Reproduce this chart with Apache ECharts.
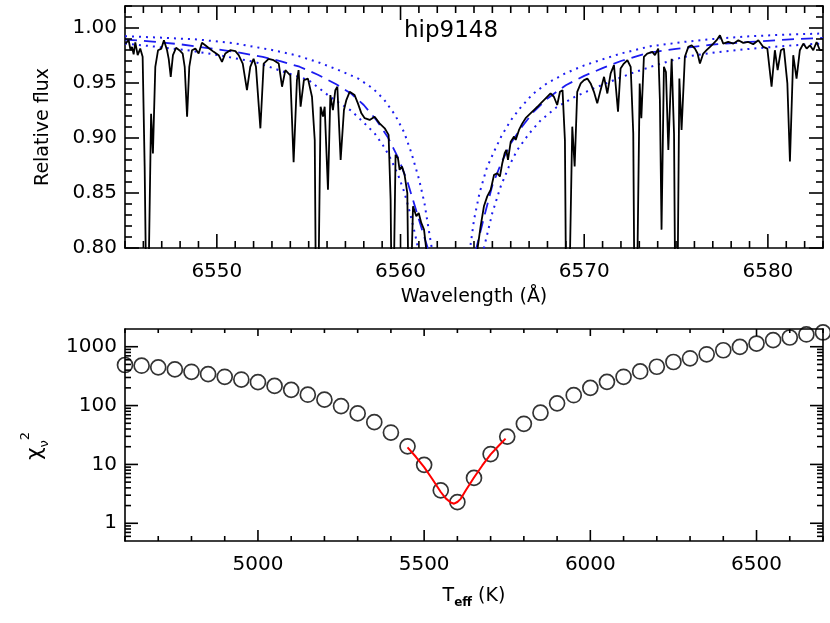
<!DOCTYPE html>
<html><head><meta charset="utf-8">
<script src="https://cdn.jsdelivr.net/npm/echarts@6/dist/echarts.min.js"></script>
<style>html,body{margin:0;padding:0;background:#fff}#c{width:830px;height:623px}</style>
</head><body><div id="c"></div>
<script>
// ---- top panel: observed spectrum [wavelength (Å), relative flux]
const spectrum = [
[6545.02,0.9858],[6545.20,0.9889],[6545.30,0.9800],[6545.38,0.9828],[6545.47,0.9760],[6545.56,0.9870],[6545.69,0.9753],[6545.83,0.9813],[6545.96,0.9738],
[6546.07,0.874],[6546.20,0.70],[6546.29,0.78],[6546.42,0.922],[6546.52,0.886],[6546.65,0.9647],[6546.80,0.9798],[6546.98,0.9813],[6547.12,0.9889],
[6547.29,0.9798],[6547.38,0.972],[6547.49,0.9556],[6547.61,0.9753],[6547.78,0.982],[6547.96,0.9798],[6548.14,0.9768],[6548.25,0.9647],[6548.38,0.9194],
[6548.50,0.9647],[6548.65,0.9798],[6548.83,0.9813],[6549.01,0.9768],[6549.19,0.9865],[6549.37,0.9843],[6549.59,0.9813],[6549.83,0.9783],[6550.10,0.9753],
[6550.28,0.9692],[6550.46,0.9768],[6550.73,0.9798],[6551.01,0.979],[6551.19,0.9753],[6551.41,0.9677],[6551.64,0.9435],[6551.82,0.9647],[6552.00,0.972],
[6552.13,0.9647],[6552.37,0.9088],[6552.55,0.9677],[6552.82,0.972],[6553.09,0.9707],[6553.37,0.9677],[6553.55,0.9466],[6553.73,0.9617],[6554.00,0.957],
[6554.18,0.878],[6554.36,0.9526],[6554.45,0.9617],[6554.56,0.9284],[6554.74,0.9526],[6554.96,0.954],[6555.18,0.9375],[6555.33,0.898],[6555.42,0.70],
[6555.54,0.78],[6555.65,0.9284],[6555.78,0.9194],[6555.87,0.9284],[6556.05,0.853],[6556.18,0.939],[6556.32,0.9254],[6556.45,0.9435],[6556.56,0.9466],
[6556.74,0.8801],[6556.92,0.9254],[6557.05,0.9345],[6557.23,0.942],[6557.50,0.939],[6557.68,0.9315],[6557.87,0.9224],[6558.05,0.918],[6558.32,0.9164],
[6558.59,0.9194],[6558.86,0.9133],[6559.14,0.9088],[6559.35,0.9028],[6559.46,0.844],[6559.55,0.70],[6559.64,0.78],[6559.73,0.8847],[6559.86,0.8816],
[6559.95,0.8711],[6560.08,0.8741],[6560.22,0.8665],[6560.37,0.8499],[6560.46,0.72],[6560.59,0.78],[6560.68,0.8379],[6560.86,0.8288],[6560.99,0.8318],
[6561.13,0.8228],[6561.28,0.8167],[6561.46,0.79],[6562.00,0.62],[6562.75,0.45],[6563.50,0.62],
[6564.18,0.798],[6564.36,0.8197],[6564.54,0.8379],[6564.72,0.8469],[6564.91,0.853],[6565.09,0.8665],[6565.27,0.868],[6565.41,0.865],[6565.54,0.8771],
[6565.67,0.8862],[6565.76,0.8892],[6565.85,0.8801],[6566.00,0.8967],[6566.18,0.9013],[6566.27,0.8982],[6566.45,0.9073],[6566.63,0.9133],[6566.81,0.918],
[6566.99,0.921],[6567.26,0.9254],[6567.45,0.9284],[6567.63,0.9315],[6567.90,0.936],[6568.17,0.9405],[6568.35,0.9375],[6568.53,0.93],[6568.68,0.942],
[6568.82,0.9435],[6568.95,0.898],[6569.04,0.70],[6569.21,0.78],[6569.35,0.9103],[6569.48,0.8741],[6569.62,0.942],[6569.81,0.9496],[6569.99,0.9526],
[6570.17,0.954],[6570.35,0.9496],[6570.53,0.942],[6570.71,0.9315],[6570.89,0.9435],[6571.08,0.9556],[6571.26,0.9405],[6571.44,0.9587],[6571.62,0.9662],
[6571.84,0.9239],[6571.98,0.9632],[6572.16,0.9677],[6572.35,0.9707],[6572.53,0.9647],[6572.67,0.9043],[6572.76,0.70],[6572.89,0.78],[6573.02,0.9496],
[6573.11,0.918],[6573.25,0.9738],[6573.43,0.9768],[6573.71,0.9783],[6573.85,0.9753],[6574.03,0.9813],[6574.12,0.9345],[6574.21,0.8167],[6574.34,0.9647],
[6574.45,0.96],[6574.58,0.8892],[6574.76,0.972],[6574.89,0.904],[6574.98,0.70],[6575.09,0.78],[6575.18,0.954],[6575.30,0.9073],[6575.48,0.9738],
[6575.67,0.9828],[6575.85,0.9843],[6576.03,0.9813],[6576.17,0.9768],[6576.30,0.9677],[6576.48,0.9768],[6576.66,0.9798],[6576.85,0.9828],[6577.03,0.9858],
[6577.21,0.9889],[6577.39,0.9934],[6577.57,0.9858],[6577.84,0.9873],[6578.12,0.9858],[6578.39,0.9889],[6578.66,0.9865],[6578.93,0.9873],[6579.20,0.9852],
[6579.48,0.9889],[6579.75,0.9828],[6579.97,0.9813],[6580.08,0.9647],[6580.20,0.9466],[6580.38,0.9798],[6580.53,0.9617],[6580.71,0.9798],[6580.87,0.9813],
[6581.06,0.9496],[6581.20,0.8786],[6581.38,0.9753],[6581.56,0.954],[6581.74,0.9798],[6581.93,0.9858],[6582.11,0.9813],[6582.29,0.9843],[6582.47,0.9798],
[6582.65,0.9873],[6582.83,0.9798],[6582.98,0.9798]
];
// best-fit model profile (dashed)
const modelBest = [
[6545.0,0.9895],[6546.5,0.9877],[6548.0,0.9852],[6549.5,0.9818],[6551.0,0.9783],[6552.5,0.9738],[6553.5,0.9697],[6554.5,0.9648],[6555.5,0.9575],
[6556.5,0.9488],[6557.3,0.9405],[6558.0,0.9300],[6558.7,0.9160],[6559.3,0.9010],[6559.9,0.8810],[6560.4,0.8590],[6560.8,0.8370],[6561.2,0.8150],
[6561.5,0.7990],[6562.0,0.7500],[6562.75,0.6500],[6563.5,0.7500],[6564.1,0.7980],[6564.5,0.8250],[6565.0,0.8570],[6565.5,0.8780],[6566.0,0.8950],
[6566.6,0.9100],[6567.2,0.9230],[6568.0,0.9360],[6569.0,0.9480],[6570.0,0.9565],[6571.0,0.9635],[6572.0,0.9700],[6573.5,0.9775],[6575.0,0.9810],
[6577.0,0.9850],[6579.0,0.9873],[6581.0,0.9895],[6583.0,0.9910]
];
// narrower model profile (dotted)
const modelNarrow = [
[6545.0,0.9925],[6547.0,0.9912],[6549.0,0.9895],[6551.0,0.9860],[6553.0,0.9800],[6554.3,0.9753],[6555.5,0.9690],[6556.6,0.9620],[6557.7,0.9540],
[6558.5,0.9450],[6559.1,0.9350],[6559.7,0.9210],[6560.2,0.9050],[6560.6,0.8860],[6561.0,0.8630],[6561.3,0.8410],[6561.6,0.8100],[6561.8,0.7900],
[6562.3,0.7300],[6562.75,0.6800],[6563.3,0.7300],[6563.75,0.7950],[6564.0,0.8255],[6564.3,0.8500],[6564.7,0.8730],[6565.1,0.8880],[6565.5,0.9020],
[6566.0,0.9160],[6566.5,0.9270],[6567.2,0.9400],[6568.0,0.9500],[6569.0,0.9590],[6570.0,0.9660],[6571.0,0.9715],[6572.0,0.9768],[6573.6,0.9834],
[6575.4,0.9873],[6577.0,0.9900],[6579.0,0.9925],[6581.0,0.9940],[6583.0,0.9950]
];
// broader model profile (dotted)
const modelBroad = [
[6545.0,0.9859],[6546.8,0.9828],[6548.5,0.9795],[6550.1,0.9753],[6552.1,0.9690],[6553.9,0.9587],[6555.0,0.9526],[6556.2,0.9370],[6557.3,0.9250],
[6558.0,0.9140],[6558.6,0.9040],[6559.1,0.8920],[6559.5,0.8800],[6559.9,0.8650],[6560.2,0.8510],[6560.5,0.8330],[6560.8,0.8120],[6560.95,0.8000],
[6561.4,0.7400],[6562.75,0.6200],[6564.1,0.7400],[6564.54,0.8000],[6565.0,0.8320],[6565.45,0.8558],[6565.9,0.8740],[6566.35,0.8890],[6567.0,0.9040],
[6567.63,0.9160],[6568.5,0.9280],[6569.44,0.9370],[6570.5,0.9450],[6571.62,0.9526],[6572.6,0.9590],[6573.62,0.9647],[6575.39,0.9737],[6577.2,0.9780],
[6579.0,0.9810],[6581.0,0.9838],[6583.0,0.9860]
];
// ---- bottom panel: reduced chi-square vs Teff
const teff = [4600,4650,4700,4750,4800,4850,4900,4950,5000,5050,5100,5150,5200,5250,5300,5350,5400,5450,5500,5550,5600,
              5650,5700,5750,5800,5850,5900,5950,6000,6050,6100,6150,6200,6250,6300,6350,6400,6450,6500,6550,6600,6650,6700];
const chi2 = [489,476,446,412,375,342,308,277,250,216,185,153,126,98,73.6,52.3,34.8,20.3,9.84,3.63,2.29,
              5.9,15.0,29.7,49,75.6,109,150,200,253,308,380,457,550,635,743,871,993,1133,1292,1435,1615,1746];
const fitTeff = [5450,5475,5500,5525,5550,5565,5580,5590,5600,5610,5625,5650,5675,5700,5725,5745];
const fitChi2 = [19.5,13.5,9.0,5.6,3.4,2.65,2.25,2.15,2.3,2.6,3.6,6.0,9.6,14.8,21.0,27.5];
// ---- tick values
const chiMajor = [1,10,100,1000];
const chiMinor = [0.6,0.7,0.8,0.9,2,3,4,5,6,7,8,9,20,30,40,50,60,70,80,90,200,300,400,500,600,700,800,900];

const FONT = 'DejaVu Sans';
const BLUE = '#1c1cf0';
const TICKW = 1.6;
const chart = echarts.init(document.getElementById('c'), null, {renderer: 'canvas'});
const titleEl = {type: 'text', x: 451, y: 31, silent: true,
  style: {text: 'hip9148', font: '23px "DejaVu Sans"', fill: '#000', align: 'center', verticalAlign: 'middle'}};

function baseAxis(extra) {
  return Object.assign({
    axisLine: {show: true, onZero: false, lineStyle: {color: '#000', width: 1.6}},
    axisTick: {show: false},
    splitLine: {show: false},
    axisLabel: {color: '#000', fontFamily: FONT, fontSize: 20},
    nameTextStyle: {color: '#000', fontFamily: FONT, fontSize: 19}
  }, extra);
}

const option = {
  animation: false,
  backgroundColor: '#fff',
  graphic: [titleEl],
  grid: [
    {left: 125, top: 6, right: 7, height: 242},
    {left: 125, top: 329, right: 7, height: 212}
  ],
  xAxis: [
    baseAxis({gridIndex: 0, type: 'value', min: 6545, max: 6583, interval: 1, position: 'bottom',
      name: 'Wavelength (Å)', nameLocation: 'middle', nameGap: 40,
      axisLabel: {color: '#000', fontFamily: FONT, fontSize: 20, margin: 14,
        formatter: v => (Math.round(v) % 10 === 0 ? String(Math.round(v)) : '')}}),
    baseAxis({gridIndex: 0, type: 'value', min: 6545, max: 6583, interval: 1, position: 'top', axisLabel: {show: false}}),
    baseAxis({gridIndex: 1, type: 'value', min: 4600, max: 6700, interval: 100, position: 'bottom',
      name: '{n|T}{s|eff}{n| (K)}', nameLocation: 'middle', nameGap: 42,
      nameTextStyle: {color: '#000', fontFamily: FONT, fontSize: 19, rich: {
        n: {fontFamily: FONT, fontSize: 19, color: '#000', lineHeight: 26, verticalAlign: 'middle'},
        s: {fontFamily: FONT, fontSize: 12, fontWeight: 'bold', color: '#000', lineHeight: 26, verticalAlign: 'bottom'}}},
      axisLabel: {color: '#000', fontFamily: FONT, fontSize: 20, margin: 14,
        formatter: v => (Math.round(v) % 500 === 0 ? String(Math.round(v)) : '')}}),
    baseAxis({gridIndex: 1, type: 'value', min: 4600, max: 6700, interval: 100, position: 'top', axisLabel: {show: false}})
  ],
  yAxis: [
    baseAxis({gridIndex: 0, type: 'value', min: 0.80, max: 1.02, interval: 0.01, position: 'left',
      name: 'Relative flux', nameLocation: 'middle', nameGap: 72,
      axisLabel: {color: '#000', fontFamily: FONT, fontSize: 20, margin: 8,
        formatter: v => { const r = Math.round(v * 100); return (r % 5 === 0 && r <= 100) ? (r / 100).toFixed(2) : ''; }}}),
    baseAxis({gridIndex: 0, type: 'value', min: 0.80, max: 1.02, interval: 0.01, position: 'right', axisLabel: {show: false}}),
    baseAxis({gridIndex: 1, type: 'log', logBase: 10, min: 0.5, max: 2000, position: 'left',
      name: '{n|χ}{s|ν}{p|2}', nameLocation: 'middle', nameGap: 74,
      nameTextStyle: {color: '#000', fontFamily: FONT, fontSize: 20, rich: {
        n: {fontFamily: FONT, fontSize: 22, color: '#000', lineHeight: 32, verticalAlign: 'middle'},
        s: {fontFamily: FONT, fontSize: 13, color: '#000', lineHeight: 32, verticalAlign: 'bottom'},
        p: {fontFamily: FONT, fontSize: 13, color: '#000', lineHeight: 32, verticalAlign: 'top', padding: [0, 22, 0, 0]}}},
      axisLabel: {color: '#000', fontFamily: FONT, fontSize: 20, margin: 8,
        formatter: v => { const l = Math.log10(v); return (v >= 1 && Math.abs(l - Math.round(l)) < 1e-6) ? String(Math.round(v)) : ''; }}}),
    baseAxis({gridIndex: 1, type: 'log', logBase: 10, min: 0.5, max: 2000, position: 'right', axisLabel: {show: false}})
  ],
  series: [
    {type: 'line', xAxisIndex: 0, yAxisIndex: 0, data: modelNarrow, showSymbol: false, clip: true, z: 2,
      lineStyle: {color: BLUE, width: 2, type: [2, 5]}},
    {type: 'line', xAxisIndex: 0, yAxisIndex: 0, data: modelBroad, showSymbol: false, clip: true, z: 2,
      lineStyle: {color: BLUE, width: 2, type: [2, 5]}},
    {type: 'line', xAxisIndex: 0, yAxisIndex: 0, data: modelBest, showSymbol: false, clip: true, z: 2,
      lineStyle: {color: BLUE, width: 1.8, type: [12, 7]}},
    {type: 'line', xAxisIndex: 0, yAxisIndex: 0, data: spectrum, showSymbol: false, clip: true, z: 3,
      lineStyle: {color: '#000', width: 1.8}},
    {type: 'scatter', xAxisIndex: 2, yAxisIndex: 2, data: teff.map((t, i) => [t, chi2[i]]), symbol: 'circle', symbolSize: 15, z: 3,
      itemStyle: {color: 'rgba(0,0,0,0)', borderColor: '#000', borderWidth: 1.7}},
    {type: 'line', xAxisIndex: 2, yAxisIndex: 2, data: fitTeff.map((t, i) => [t, fitChi2[i]]), showSymbol: false, z: 4,
      lineStyle: {color: '#ff0000', width: 2}}
  ]
};
try { chart.setOption(option); } catch (e) { /* keep what was drawn */ }

// Box ticks (IDL style, on all four sides), placed through the chart's own scales.
try {
  const P = (g, v) => chart.convertToPixel({gridIndex: g}, v);
  const seg = (x1, y1, x2, y2) => ({type: 'line', silent: true, z: 100,
    shape: {x1: x1, y1: y1, x2: x2, y2: y2}, style: {stroke: '#000', lineWidth: TICKW}});
  const els = [titleEl];
  // top panel
  const a0 = P(0, [6545, 1.02]), b0 = P(0, [6583, 0.80]);
  for (let w = 6545; w <= 6583; w++) {
    const x = P(0, [w, 0.9])[0]; const len = (w % 10 === 0) ? 14 : 7;
    els.push(seg(x, b0[1], x, b0[1] - len), seg(x, a0[1], x, a0[1] + len));
  }
  for (let k = 80; k <= 102; k++) {
    const y = P(0, [6560, k / 100])[1]; const len = (k % 5 === 0) ? 14 : 7;
    els.push(seg(a0[0], y, a0[0] + len, y), seg(b0[0], y, b0[0] - len, y));
  }
  // bottom panel
  const a1 = P(1, [4600, 2000]), b1 = P(1, [6700, 0.5]);
  for (let t = 4600; t <= 6700; t += 100) {
    const x = P(1, [t, 10])[0]; const maj = (t % 500 === 0);
    els.push(seg(x, b1[1], x, b1[1] - (maj ? 11 : 5)), seg(x, a1[1], x, a1[1] + (maj ? 7 : 4)));
  }
  chiMajor.forEach(v => { const y = P(1, [5000, v])[1]; els.push(seg(a1[0], y, a1[0] + 13, y), seg(b1[0], y, b1[0] - 13, y)); });
  chiMinor.forEach(v => { const y = P(1, [5000, v])[1]; els.push(seg(a1[0], y, a1[0] + 6, y), seg(b1[0], y, b1[0] - 6, y)); });
  chart.setOption({graphic: els});
} catch (e) { /* ticks optional */ }
</script></body></html>
